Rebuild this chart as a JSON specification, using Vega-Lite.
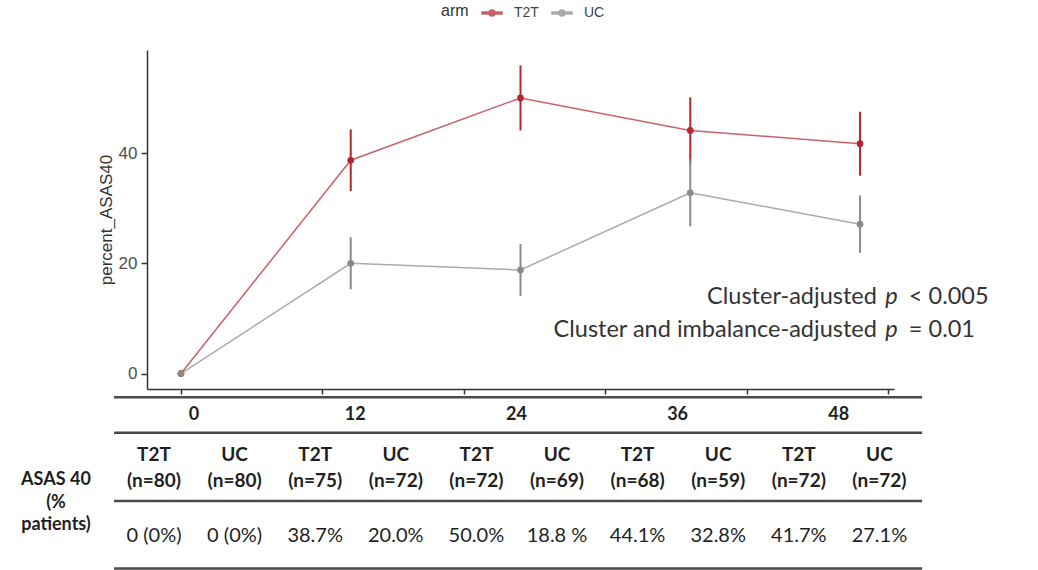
{
  "$schema": "https://vega.github.io/schema/vega-lite/v6.json",
  "padding": {"left": 21, "top": 2, "right": 5, "bottom": 0},
  "bounds": "flush",
  "spacing": 0,
  "config": {
    "view": {"stroke": null},
    "font": "Liberation Sans",
    "axis": {
      "domainColor": "#333333", "domainWidth": 1.5,
      "tickColor": "#333333", "tickWidth": 1.5, "tickSize": 6,
      "labelColor": "#4d4d4d", "labelFontSize": 17, "labelFont": "Liberation Sans",
      "titleFontSize": 17, "titleFontWeight": "normal", "titleColor": "#333333", "titleFont": "Liberation Sans",
      "grid": false
    }
  },
  "resolve": {"scale": {"x": "independent", "y": "independent"}, "legend": {"color": "independent"}},
  "vconcat": [
    {
      "width": 747,
      "height": 339,
      "data": {"values": [
        {"week": 0, "arm": "T2T", "percent": 0, "lo": 0, "hi": 0},
        {"week": 12, "arm": "T2T", "percent": 38.7, "lo": 33.1, "hi": 44.3},
        {"week": 24, "arm": "T2T", "percent": 50.0, "lo": 44.1, "hi": 55.9},
        {"week": 36, "arm": "T2T", "percent": 44.1, "lo": 38.1, "hi": 50.1},
        {"week": 48, "arm": "T2T", "percent": 41.7, "lo": 35.9, "hi": 47.5},
        {"week": 0, "arm": "UC", "percent": 0, "lo": 0, "hi": 0},
        {"week": 12, "arm": "UC", "percent": 20.0, "lo": 15.3, "hi": 24.7},
        {"week": 24, "arm": "UC", "percent": 18.8, "lo": 14.1, "hi": 23.5},
        {"week": 36, "arm": "UC", "percent": 32.8, "lo": 26.7, "hi": 38.9},
        {"week": 48, "arm": "UC", "percent": 27.1, "lo": 21.9, "hi": 32.3}
      ]},
      "layer": [
        {
          "mark": {"type": "line", "strokeWidth": 1.5, "opacity": 0.72},
          "encoding": {
            "x": {"field": "week", "type": "quantitative", "scale": {"domain": [-2.4, 50.4], "nice": false, "zero": false},
                  "axis": {"values": [0, 10, 20, 30, 40, 50], "labels": false, "title": null, "tickSize": 5}},
            "y": {"field": "percent", "type": "quantitative", "title": "percent_ASAS40",
                  "scale": {"domain": [-2.8, 58.7], "nice": false, "zero": false},
                  "axis": {"values": [0, 20, 40], "labelPadding": 4, "titlePadding": 3}},
            "color": {"field": "arm", "type": "nominal",
                      "scale": {"domain": ["T2T", "UC"], "range": ["#B5262E", "#8A8A8A"]},
                      "legend": {
                        "orient": "none", "legendX": 294, "legendY": -48,
                        "direction": "horizontal", "title": "arm", "titleOrient": "left",
                        "titleFontSize": 16, "titleFontWeight": "normal", "titleColor": "#333333",
                        "labelFontSize": 14, "labelColor": "#444444",
                        "symbolType": "M-1,-0.09H1V0.09H-1Z M0.3,0A0.3,0.3 0 1,1 -0.3,0A0.3,0.3 0 1,1 0.3,0Z",
                        "symbolSize": 400, "labelOffset": 11, "columnPadding": 10, "titlePadding": 12,
                        "encode": {"symbols": {"update": {
                          "fill": {"scale": "color", "field": "value"},
                          "stroke": {"value": "transparent"},
                          "strokeWidth": {"value": 0},
                          "opacity": {"value": 1}
                        }}}
                      }}
          }
        },
        {
          "mark": {"type": "rule", "strokeWidth": 2},
          "encoding": {
            "x": {"field": "week", "type": "quantitative"},
            "y": {"field": "lo", "type": "quantitative", "title": "percent_ASAS40"},
            "y2": {"field": "hi"},
            "color": {"field": "arm", "type": "nominal"}
          }
        },
        {
          "mark": {"type": "point", "filled": true, "size": 45, "opacity": 1},
          "encoding": {
            "x": {"field": "week", "type": "quantitative"},
            "y": {"field": "percent", "type": "quantitative", "title": "percent_ASAS40"},
            "color": {"field": "arm", "type": "nominal"}
          }
        },
        {
          "data": {"values": [{"label": "Cluster-adjusted"}]},
          "mark": {"type": "text", "align": "right", "baseline": "middle", "font": "Lato", "fontSize": 23.5, "color": "#333333"},
          "encoding": {"x": {"datum": 49.19}, "y": {"datum": 13.83}, "text": {"field": "label"}}
        },
        {
          "data": {"values": [{"label": "p"}]},
          "mark": {"type": "text", "align": "left", "baseline": "middle", "font": "Lato", "fontSize": 23.5, "fontStyle": "italic", "color": "#333333"},
          "encoding": {"x": {"datum": 49.78}, "y": {"datum": 13.83}, "text": {"field": "label"}}
        },
        {
          "data": {"values": [{"label": "< 0.005"}]},
          "mark": {"type": "text", "align": "left", "baseline": "middle", "font": "Lato", "fontSize": 23.5, "color": "#333333"},
          "encoding": {"x": {"datum": 51.45}, "y": {"datum": 13.83}, "text": {"field": "label"}}
        },
        {
          "data": {"values": [{"label": "Cluster and imbalance-adjusted"}]},
          "mark": {"type": "text", "align": "right", "baseline": "middle", "font": "Lato", "fontSize": 23.5, "color": "#333333"},
          "encoding": {"x": {"datum": 49.19}, "y": {"datum": 7.85}, "text": {"field": "label"}}
        },
        {
          "data": {"values": [{"label": "p"}]},
          "mark": {"type": "text", "align": "left", "baseline": "middle", "font": "Lato", "fontSize": 23.5, "fontStyle": "italic", "color": "#333333"},
          "encoding": {"x": {"datum": 49.78}, "y": {"datum": 7.85}, "text": {"field": "label"}}
        },
        {
          "data": {"values": [{"label": "= 0.01"}]},
          "mark": {"type": "text", "align": "left", "baseline": "middle", "font": "Lato", "fontSize": 23.5, "color": "#333333"},
          "encoding": {"x": {"datum": 51.45}, "y": {"datum": 7.85}, "text": {"field": "label"}}
        }
      ]
    },
    {
      "width": 747,
      "height": 182,
      "data": {"values": [
        {"week": 0, "arm": "T2T", "n": 80, "pct": "0 (0%)", "col": 0},
        {"week": 0, "arm": "UC", "n": 80, "pct": "0 (0%)", "col": 1},
        {"week": 12, "arm": "T2T", "n": 75, "pct": "38.7%", "col": 2},
        {"week": 12, "arm": "UC", "n": 72, "pct": "20.0%", "col": 3},
        {"week": 24, "arm": "T2T", "n": 72, "pct": "50.0%", "col": 4},
        {"week": 24, "arm": "UC", "n": 69, "pct": "18.8 %", "col": 5},
        {"week": 36, "arm": "T2T", "n": 68, "pct": "44.1%", "col": 6},
        {"week": 36, "arm": "UC", "n": 59, "pct": "32.8%", "col": 7},
        {"week": 48, "arm": "T2T", "n": 72, "pct": "41.7%", "col": 8},
        {"week": 48, "arm": "UC", "n": 72, "pct": "27.1%", "col": 9}
      ]},
      "layer": [
        {
          "data": {"values": [{}]},
          "mark": {"type": "rule", "strokeWidth": 2.5, "color": "#4a4a4a"},
          "encoding": {
            "x": {"datum": -0.496, "type": "quantitative", "scale": {"domain": [-0.0868, 9.181], "nice": false, "zero": false}, "axis": null},
            "x2": {"datum": 9.53},
            "y": {"datum": 0.32, "type": "quantitative", "scale": {"domain": [0, 7], "nice": false, "zero": false, "reverse": true}, "axis": null}
          }
        },
        {
          "data": {"values": [{}]},
          "mark": {"type": "rule", "strokeWidth": 2.5, "color": "#4a4a4a"},
          "encoding": {"x": {"datum": -0.496, "type": "quantitative"}, "x2": {"datum": 9.53}, "y": {"datum": 1.68, "type": "quantitative"}}
        },
        {
          "data": {"values": [{}]},
          "mark": {"type": "rule", "strokeWidth": 2.5, "color": "#4a4a4a"},
          "encoding": {"x": {"datum": -0.496, "type": "quantitative"}, "x2": {"datum": 9.53}, "y": {"datum": 4.31, "type": "quantitative"}}
        },
        {
          "data": {"values": [{}]},
          "mark": {"type": "rule", "strokeWidth": 2.5, "color": "#4a4a4a"},
          "encoding": {"x": {"datum": -0.496, "type": "quantitative"}, "x2": {"datum": 9.53}, "y": {"datum": 6.9, "type": "quantitative"}}
        },
        {
          "transform": [{"filter": "datum.arm === 'T2T'"}],
          "mark": {"type": "text", "align": "center", "baseline": "middle", "font": "Lato", "fontSize": 18, "fontWeight": "bold", "color": "#1f1f1f", "dx": 40},
          "encoding": {"x": {"field": "col", "type": "quantitative"}, "y": {"datum": 1.0, "type": "quantitative"}, "text": {"field": "week"}}
        },
        {
          "mark": {"type": "text", "align": "center", "baseline": "middle", "font": "Lato", "fontSize": 19, "fontWeight": "bold", "color": "#1f1f1f"},
          "encoding": {"x": {"field": "col", "type": "quantitative"}, "y": {"datum": 2.52, "type": "quantitative"}, "text": {"field": "arm"}}
        },
        {
          "transform": [{"calculate": "'(n=' + datum.n + ')'", "as": "n_label"}],
          "mark": {"type": "text", "align": "center", "baseline": "middle", "font": "Lato", "fontSize": 19, "fontWeight": "bold", "color": "#1f1f1f"},
          "encoding": {"x": {"field": "col", "type": "quantitative"}, "y": {"datum": 3.55, "type": "quantitative"}, "text": {"field": "n_label"}}
        },
        {
          "mark": {"type": "text", "align": "center", "baseline": "middle", "font": "Lato", "fontSize": 20, "color": "#1f1f1f"},
          "encoding": {"x": {"field": "col", "type": "quantitative"}, "y": {"datum": 5.67, "type": "quantitative"}, "text": {"field": "pct"}}
        },
        {
          "data": {"values": [{"label": "ASAS 40\n(%\npatients)"}]},
          "mark": {"type": "text", "align": "center", "baseline": "middle", "font": "Lato", "fontSize": 18, "fontWeight": "bold", "color": "#1f1f1f", "lineBreak": "\n", "lineHeight": 22.5},
          "encoding": {"x": {"datum": -1.216, "type": "quantitative"}, "y": {"datum": 3.51, "type": "quantitative"}, "text": {"field": "label"}}
        }
      ]
    }
  ]
}
